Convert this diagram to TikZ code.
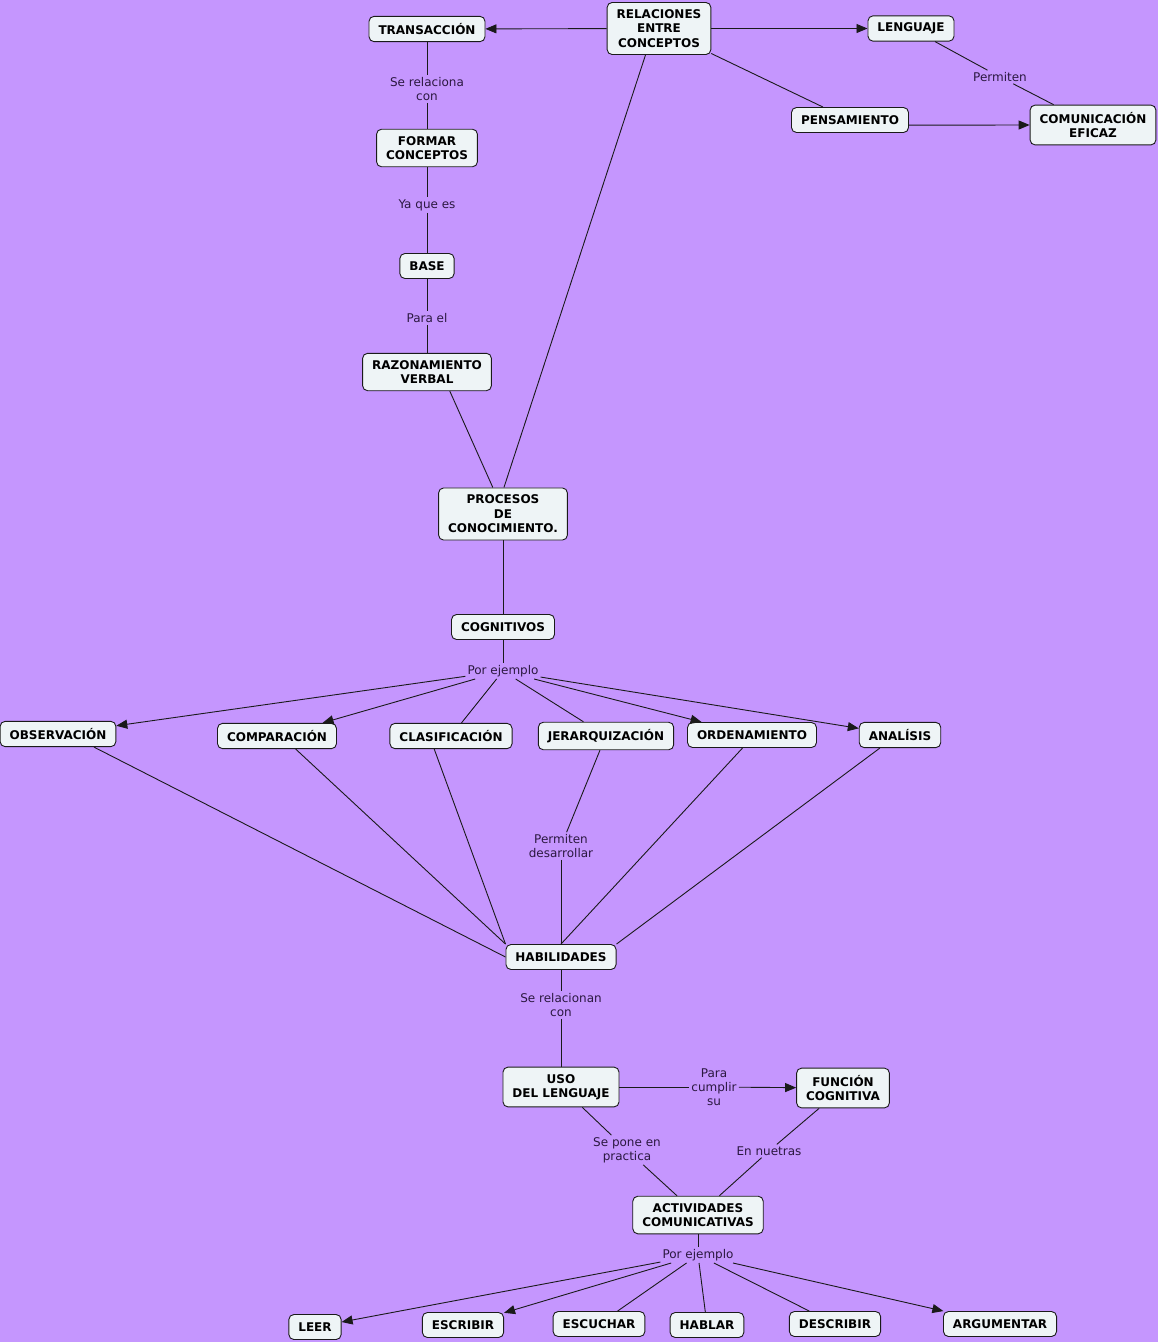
\documentclass[tikz,border=0pt]{standalone}
\usepackage{fontspec}
\setmainfont{DejaVu Sans}
\usetikzlibrary{arrows.meta}

\definecolor{mapbg}{HTML}{C596FE}
\definecolor{mapbox}{HTML}{EEF4F6}
\definecolor{mapink}{HTML}{1A1A1A}
\definecolor{maplink}{HTML}{2B1840}
\tikzset{
  concept/.style={draw=mapink, fill=mapbox, rounded corners=5pt, line width=0.9pt, align=center,
    font=\fontsize{12}{14.5}\selectfont\bfseries, inner xsep=9.5pt, inner ysep=7pt, minimum height=25pt},
  linkword/.style={text=maplink, align=center, font=\fontsize{12}{14}\selectfont, inner sep=2pt},
  map line/.style={mapink, line width=0.9pt},
  map arrow/.style={map line, -{Triangle[length=11pt,width=9pt]}},
}

\begin{document}
\begin{tikzpicture}[x=1pt, y=-1pt]
  \fill[mapbg] (0,0) rectangle (1158,1342);
  \useasboundingbox (0,0) rectangle (1158,1342);

  % concepts
  \node[concept] (rel) at (659,28.5) {RELACIONES\\ENTRE\\CONCEPTOS};
  \node[concept] (trans) at (427,29) {TRANSACCIÓN};
  \node[concept] (leng) at (911,28.5) {LENGUAJE};
  \node[concept] (pens) at (850,120) {PENSAMIENTO};
  \node[concept] (com) at (1093,125) {COMUNICACIÓN\\EFICAZ};
  \node[concept] (formar) at (427,148) {FORMAR\\CONCEPTOS};
  \node[concept] (base) at (427,266) {BASE};
  \node[concept] (razon) at (427,372) {RAZONAMIENTO\\VERBAL};
  \node[concept] (proc) at (503,514) {PROCESOS\\DE\\CONOCIMIENTO.};
  \node[concept] (cogn) at (503,627) {COGNITIVOS};
  \node[concept] (obs) at (58,734) {OBSERVACIÓN};
  \node[concept] (comp) at (277,736) {COMPARACIÓN};
  \node[concept] (clas) at (451,736) {CLASIFICACIÓN};
  \node[concept] (jer) at (606,736) {JERARQUIZACIÓN};
  \node[concept] (orden) at (752,735) {ORDENAMIENTO};
  \node[concept] (anal) at (900,735) {ANALÍSIS};
  \node[concept] (hab) at (561,957) {HABILIDADES};
  \node[concept] (uso) at (561,1087) {USO\\DEL LENGUAJE};
  \node[concept] (func) at (843,1088) {FUNCIÓN\\COGNITIVA};
  \node[concept] (activ) at (698,1215) {ACTIVIDADES\\COMUNICATIVAS};
  \node[concept] (leer) at (315,1327) {LEER};
  \node[concept] (escr) at (463,1325) {ESCRIBIR};
  \node[concept] (escu) at (599,1324) {ESCUCHAR};
  \node[concept] (habl) at (707,1325) {HABLAR};
  \node[concept] (desc) at (835,1324) {DESCRIBIR};
  \node[concept] (argu) at (1000,1324) {ARGUMENTAR};

  % linking words
  \node[linkword] (w1) at (427,89) {Se relaciona\\con};
  \node[linkword] (w2) at (427,205) {Ya que es};
  \node[linkword] (w3) at (427,318) {Para el};
  \node[linkword] (w4) at (1000,77) {Permiten};
  \node[linkword] (w5) at (503,671) {Por ejemplo};
  \node[linkword] (w6) at (561,846) {Permiten\\desarrollar};
  \node[linkword] (w7) at (561,1005) {Se relacionan\\con};
  \node[linkword] (w8) at (714,1087) {Para\\cumplir\\su};
  \node[linkword] (w9) at (627,1150) {Se pone en\\practica};
  \node[linkword] (w10) at (769,1151) {En nuetras};
  \node[linkword] (w11) at (698,1255) {Por ejemplo};

  % top part
  \draw[map arrow] (rel) -- (trans);
  \draw[map arrow] (rel) -- (leng);
  \draw[map line] (rel) -- (pens);
  \draw[map line] (rel.-117) -- (proc.88);
  \draw[map line] (leng) -- (w4);
  \draw[map line] (w4) -- (com);
  \draw[map arrow] (pens.-5) -- (com.west);
  \draw[map line] (trans) -- (w1);
  \draw[map line] (w1) -- (formar);
  \draw[map line] (formar) -- (w2);
  \draw[map line] (w2) -- (base);
  \draw[map line] (base) -- (w3);
  \draw[map line] (w3) -- (razon);
  \draw[map line] (razon.-40) -- (proc.111);
  \draw[map line] (proc) -- (cogn);
  \draw[map line] (cogn) -- (w5);

  % procesos cognitivos
  \foreach \t in {obs,comp,orden,anal}
    \draw[map arrow] (w5) -- (\t);
  \foreach \t in {clas,jer}
    \draw[map line] (w5) -- (\t);
  \draw[map line] (obs.-20) -- (hab.west);
  \draw[map line] (comp.-35) -- (hab.north west);
  \draw[map line] (clas.-142) -- (hab.north west);
  \draw[map line] (jer.-113) -- (w6);
  \draw[map line] (w6) -- (hab);
  \draw[map line] (orden.-126) -- (hab.north);
  \draw[map line] (anal.-147) -- (hab.north east);

  % bottom part
  \draw[map line] (hab) -- (w7);
  \draw[map line] (w7) -- (uso);
  \draw[map line] (uso) -- (w8);
  \draw[map arrow] (w8) -- (func);
  \draw[map line] (uso) -- (w9);
  \draw[map line] (w9) -- (activ);
  \draw[map line] (func) -- (w10);
  \draw[map line] (w10) -- (activ);
  \draw[map line] (activ) -- (w11);
  \foreach \t in {leer,escr,argu}
    \draw[map arrow] (w11) -- (\t);
  \foreach \t in {escu,habl,desc}
    \draw[map line] (w11) -- (\t);
\end{tikzpicture}
\end{document}
